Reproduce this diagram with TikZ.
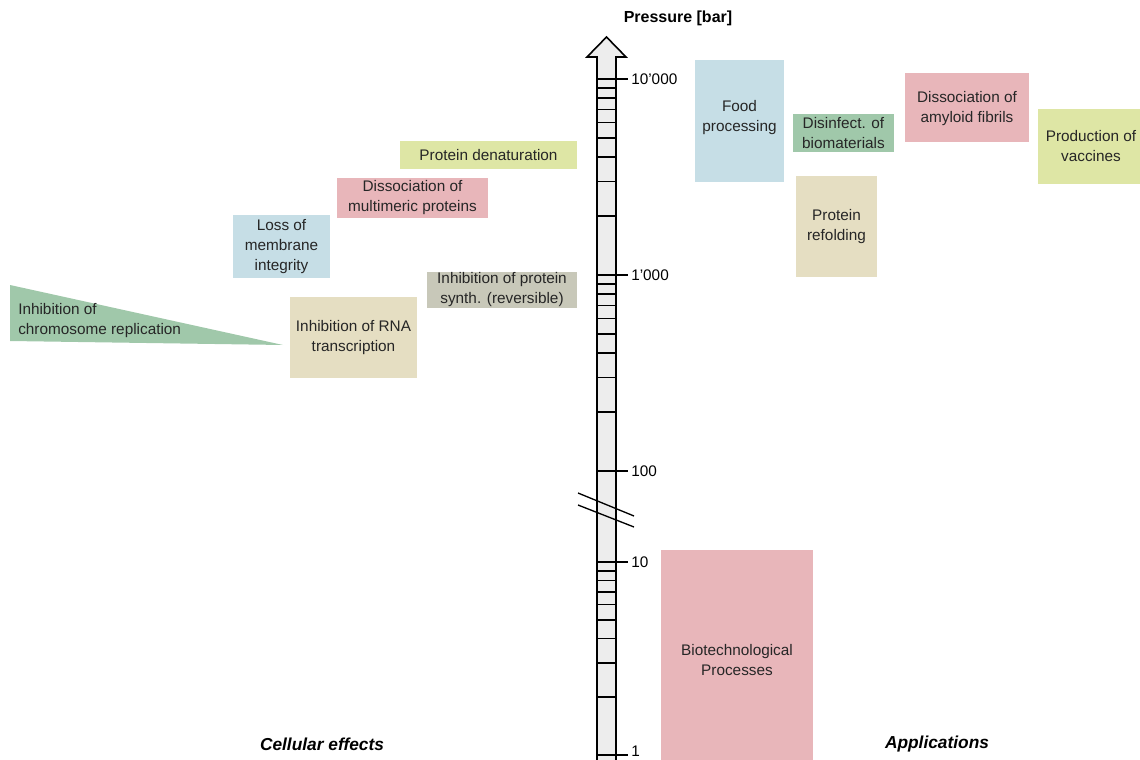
\documentclass[tikz,border=0pt]{standalone}
\usepackage{fontspec}
\setmainfont{Liberation Sans}
\definecolor{cblue}{RGB}{198,222,230}
\definecolor{cpink}{RGB}{232,182,186}
\definecolor{cyell}{RGB}{222,230,165}
\definecolor{ctan}{RGB}{229,222,194}
\definecolor{cgreen}{RGB}{160,200,170}
\definecolor{cgrey}{RGB}{200,200,185}
\begin{document}
\begin{tikzpicture}[x=0.75pt, y=-0.75pt,
  lbl/.style={align=center, inner sep=0pt, text=black!85, font=\fontsize{11.5}{15}\selectfont},
  ticklbl/.style={anchor=west, inner sep=0pt, font=\fontsize{11.5}{15}\selectfont},
  heading/.style={inner sep=0pt, font=\fontsize{13}{15}\bfseries\itshape\selectfont}]
\useasboundingbox (0,0) rectangle (1140,760);

% pressure axis
\filldraw[fill=black!7, line width=1.2pt] (597,766) -- (597,57) -- (587,57) -- (606.5,37) -- (626,57) -- (616,57) -- (616,766);
\foreach \v in {2,...,9} {
  \draw[line width=1pt] (597,{275-196*log10(\v)}) -- (616,{275-196*log10(\v)});
  \draw[line width=1pt] (597,{471-196*log10(\v)}) -- (616,{471-196*log10(\v)});
  \draw[line width=1pt] (597,{755-193*log10(\v)}) -- (616,{755-193*log10(\v)});
}
\foreach \y/\t/\n in {79/10'000/ta, 275/1'000/tb, 471/100/tc, 562/10/td, 755/1/te} {
  \draw[line width=1pt] (597,\y) -- (628,\y);
}
\node[ticklbl] (ta) at (631,79) {10'000};
\node[ticklbl] (tb) at (631,275) {1'000};
\node[ticklbl] (tc) at (631,471) {100};
\node[ticklbl] (td) at (631,562) {10};
\node[ticklbl] (te) at (631,751) {1};
\draw[line width=1pt] (578,493) -- (634,516);
\draw[line width=1pt] (578,505) -- (634,527);
\node[inner sep=0pt, font=\fontsize{12}{14}\bfseries\selectfont] (press) at (678,18) {Pressure [bar]};

% cellular effects
\fill[cyell] (400,141) rectangle (577,169);
\node[lbl] (denat) at (488.5,155) {Protein denaturation};
\fill[cpink] (337,178) rectangle (488,218);
\node[lbl] (multi) at (412.5,198) {Dissociation of\\multimeric proteins};
\fill[cblue] (233,215) rectangle (330,278);
\node[lbl] (memb) at (281.5,246.5) {Loss of\\membrane\\integrity};
\fill[cgrey] (427,272) rectangle (577,308);
\node[lbl] (synth) at (502,290) {Inhibition of protein\\synth. (reversible)};
\fill[ctan] (290,297) rectangle (417,378);
\node[lbl] (rna) at (353.5,337.5) {Inhibition of RNA\\transcription};
\fill[cgreen] (10,285) -- (10,341) -- (283,345) -- cycle;
\node[lbl, align=left, anchor=west] (chrom) at (18,321) {Inhibition of\\chromosome replication};

% applications
\fill[cblue] (695,60) rectangle (784,182);
\node[lbl] (food) at (739.5,118) {Food\\processing};
\fill[cgreen] (793,114) rectangle (894,152);
\node[lbl] (disinf) at (843.5,133) {Disinfect. of\\biomaterials};
\fill[ctan] (796,176) rectangle (877,277);
\node[lbl] (refold) at (836.5,226.5) {Protein\\refolding};
\fill[cpink] (905,73) rectangle (1029,142);
\node[lbl] (amyl) at (967,109) {Dissociation of\\amyloid fibrils};
\fill[cyell] (1038,109) rectangle (1140,184);
\node[lbl] (vacc) at (1091,146.5) {Production of\\vaccines};
\fill[cpink] (661,550) rectangle (813,766);
\node[lbl] (biotech) at (737,660) {Biotechnological\\Processes};

\node[heading] (cell) at (322,744) {Cellular effects};
\node[heading] (appl) at (937,744) {Applications};
\end{tikzpicture}
\end{document}
